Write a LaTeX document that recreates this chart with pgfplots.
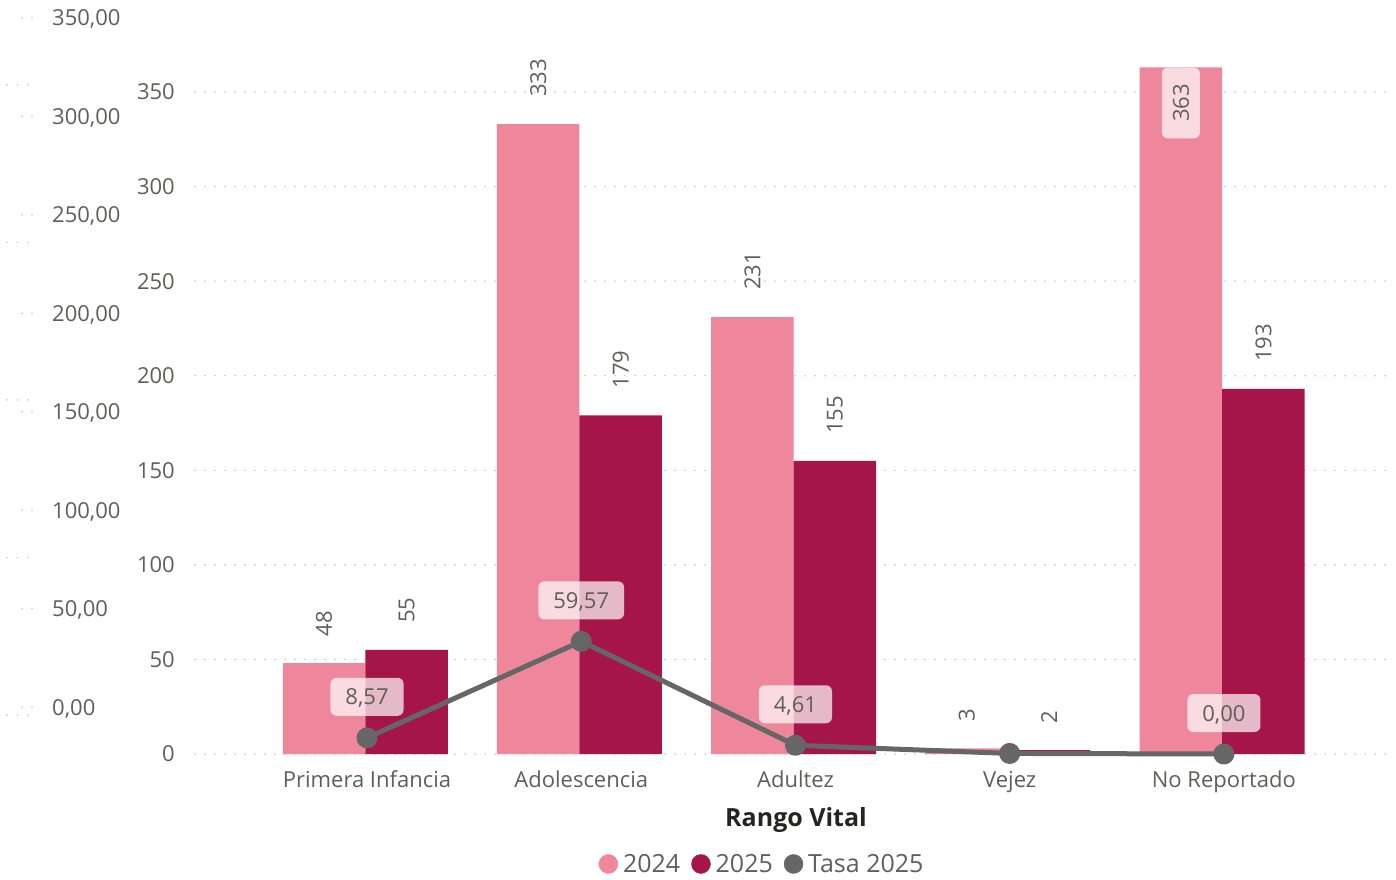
\documentclass[border=0pt]{standalone}
\usepackage{fontspec}
\setmainfont{Open Sans}
\usepackage{pgfplots}
\pgfplotsset{compat=1.18}
\definecolor{c24}{HTML}{EE879B}
\definecolor{c25}{HTML}{A51548}
\definecolor{cline}{HTML}{666666}
\definecolor{ctxt}{HTML}{605E5C}
\definecolor{cgrid}{HTML}{CFCFCF}
\definecolor{ctitle}{HTML}{252423}
\pgfplotsset{/pgf/number format/assume math mode=true}
\begin{document}
\begin{tikzpicture}[x=1pt,y=1pt]
\useasboundingbox (0,0) rectangle (1396,879);
% outer (rate) axis: labels only
\begin{axis}[at={(195pt,172pt)}, anchor=south west, scale only axis,
  width=1193pt, height=689pt, xmin=0, xmax=1, ymin=0, ymax=350,
  ytick={0,50,...,350}, xtick=\empty, axis line style={draw=none},
  major tick length=0pt,
  yticklabel style={anchor=base west, inner sep=0pt, xshift=-143pt, yshift=-8pt,
    text=ctxt, font=\fontsize{22}{26}\selectfont},
  /pgf/number format/.cd, fixed, fixed zerofill, precision=2, use comma]
\end{axis}
% main axis
\begin{axis}[at={(195pt,125pt)}, anchor=south west, scale only axis,
  width=1193pt, height=718.7pt, xmin=-0.803, xmax=4.766, ymin=0, ymax=380,
  clip=false,
  ytick={0,50,...,350}, xtick={0,...,4},
  xticklabels={Primera Infancia,Adolescencia,Adultez,Vejez,No Reportado},
  axis line style={draw=none}, major tick length=0pt,
  ymajorgrids, grid style={cgrid, line width=2pt, line cap=round, dash pattern=on 0pt off 10pt},
  yticklabel style={anchor=east, inner sep=0pt, xshift=-20pt, text=ctxt, font=\fontsize{22}{26}\selectfont},
  xticklabel style={anchor=base, inner sep=0pt, yshift=-33pt, text=ctxt, font=\fontsize{22}{26}\selectfont},
  xlabel={Rango Vital},
  xlabel style={at={(axis description cs:0.5038,0)}, anchor=base, yshift=-72pt, inner sep=0pt,
    text=ctitle, font=\bfseries\fontsize{25}{30}\selectfont},
  legend columns=3,
  legend style={at={(axis description cs:0.4745,-0.153)}, anchor=center, draw=none, fill=none,
    font=\fontsize{25}{30}\selectfont, text=ctxt, inner sep=0pt,
    /tikz/every odd column/.style={column sep=5pt},
    /tikz/every even column/.style={column sep=11pt},
    nodes={inner sep=0pt, text=ctxt}},
]
% bars
\addplot[ybar, bar width=82.5pt, bar shift=-43pt, fill=c24, draw=none, forget plot]
  coordinates {(0,48)(1,333)(2,231)(3,3)(4,363)};
\addplot[ybar, bar width=82.5pt, bar shift=39.5pt, fill=c25, draw=none, forget plot,
  nodes near coords, nodes near coords style={xshift=39.5pt, yshift=27pt, rotate=90, anchor=west, inner sep=0pt,
    text=ctxt, font=\fontsize{22}{26}\selectfont}]
  coordinates {(0,55)(1,179)(2,155)(3,2)(4,193)};
% labels of 2024 bars
\addplot[ybar, bar width=82.5pt, bar shift=-43pt, draw=none, fill=none, forget plot,
  nodes near coords, nodes near coords style={xshift=-43pt, yshift=27pt, rotate=90, anchor=west, inner sep=0pt,
    text=ctxt, font=\fontsize{22}{26}\selectfont}]
  coordinates {(0,48)(1,333)(2,231)(3,3)};
\addplot[ybar, bar width=82.5pt, bar shift=-43pt, draw=none, fill=none, forget plot,
  nodes near coords, nodes near coords style={xshift=-43pt, rotate=90, anchor=east, fill=white, fill opacity=0.7,
    text opacity=1, rounded corners=6pt, inner xsep=16.5pt, inner ysep=11pt,
    text=ctxt, font=\fontsize{22}{26}\selectfont}]
  coordinates {(4,363)};
% line
\addplot[cline, line width=5pt, line join=round, mark=*, mark size=8pt,
  mark options={draw=none, fill=cline}, forget plot]
  coordinates {(0,8.57)(1,59.57)(2,4.61)(3,0.3)(4,0)};
\addplot[draw=none, forget plot, nodes near coords, point meta=explicit symbolic,
  nodes near coords style={anchor=center, yshift=41pt, fill=white, fill opacity=0.7,
    text opacity=1, rounded corners=6pt, inner xsep=15pt, inner ysep=11pt,
    text height=16pt, text depth=0pt, text=ctxt, font=\fontsize{22}{26}\selectfont}]
  table[meta=lab] {
x y lab
0 8.57 8,57
1 59.57 59,57
2 4.61 4,61
4 0 0,00
};
% legend
\addlegendimage{legend image code/.code={\fill[c24] (9.5pt,0pt) circle (9.5pt);}}
\addlegendentry{2024}
\addlegendimage{legend image code/.code={\fill[c25] (9.5pt,0pt) circle (9.5pt);}}
\addlegendentry{2025}
\addlegendimage{legend image code/.code={\fill[cline] (9.5pt,0pt) circle (9.5pt);}}
\addlegendentry{Tasa 2025}
\end{axis}
% faint dotted remnants on the far left
\foreach \r in {18,116.4,214.9,313.3,411.7,510.1,608.6,707}
  \draw[cgrid, line width=2pt, line cap=round, dash pattern=on 0pt off 10pt] (22,879-\r) -- (33,879-\r);
\foreach \r in {85,242.5,400,557.5,715}
  \draw[cgrid, line width=2pt, line cap=round, dash pattern=on 0pt off 10.5pt] (7,879-\r) -- (29,879-\r);
\end{tikzpicture}
\end{document}
